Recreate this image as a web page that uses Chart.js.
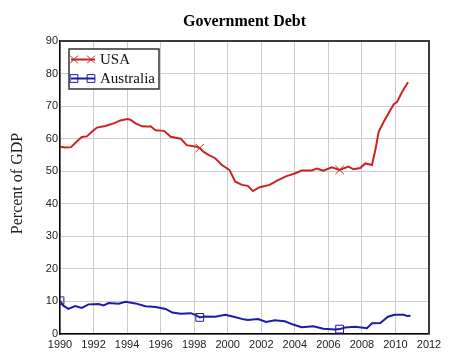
<!DOCTYPE html>
<html>
<head>
<meta charset="utf-8">
<script src="https://cdn.jsdelivr.net/npm/chart.js@4/dist/chart.umd.min.js"></script>
<style>
  html, body { margin: 0; padding: 0; background: #fff; }
  #wrap { width: 450px; height: 363px; }
</style>
</head>
<body>
<div id="wrap"><canvas id="chartDebt" width="450" height="363"></canvas></div>
<script>
// Government debt, percent of GDP
const usaYears = [1990.0, 1990.3, 1990.66, 1991.0, 1991.3, 1991.6, 1991.9, 1992.2, 1992.7, 1993.2,
	1993.6, 1994.0, 1994.2, 1994.5, 1994.9, 1995.2, 1995.4, 1995.7, 1996.2, 1996.6,
	1997.2, 1997.55, 1998.15, 1998.33, 1998.55, 1998.85, 1999.25, 1999.65, 2000.1, 2000.45,
	2000.85, 2001.2, 2001.5, 2001.9, 2002.5, 2003.0, 2003.5, 2004.0, 2004.4, 2005.0,
	2005.3, 2005.7, 2006.2, 2006.67, 2007.2, 2007.5, 2007.9, 2008.2, 2008.6, 2008.8,
	2009.0, 2009.3, 2009.7, 2009.9, 2010.1, 2010.4, 2010.75];
const usaDebt = [57.5, 57.3, 57.4, 59.1, 60.5, 60.7, 62.1, 63.4, 63.9, 64.7,
	65.6, 66.0, 65.8, 64.7, 63.8, 63.7, 63.8, 62.6, 62.4, 60.6,
	60.0, 58.0, 57.5, 57.1, 56.0, 55.0, 54.0, 51.9, 50.4, 46.8,
	45.8, 45.5, 43.9, 45.1, 45.8, 47.3, 48.5, 49.3, 50.2, 50.2,
	50.8, 50.2, 51.2, 50.4, 51.4, 50.6, 51.0, 52.4, 51.9, 56.5,
	62.1, 65.2, 68.8, 70.6, 71.3, 74.4, 77.3];

const ausYears = [1990.0, 1990.2, 1990.5, 1990.9, 1991.3, 1991.7, 1992.3, 1992.6, 1992.9, 1993.5,
	1993.9, 1994.5, 1995.1, 1995.7, 1996.3, 1996.7, 1997.2, 1997.8, 1998.1, 1998.33,
	1998.6, 1999.25, 1999.85, 2000.35, 2000.95, 2001.2, 2001.8, 2002.3, 2002.8, 2003.4,
	2003.9, 2004.4, 2005.1, 2005.7, 2006.4, 2006.67, 2007.0, 2007.6, 2008.3, 2008.6,
	2009.1, 2009.55, 2009.95, 2010.5, 2010.7, 2010.9];
const ausDebt = [10.2, 8.7, 7.7, 8.6, 8.0, 9.1, 9.2, 8.8, 9.5, 9.3,
	9.9, 9.4, 8.5, 8.3, 7.7, 6.6, 6.2, 6.4, 5.8, 5.1,
	5.4, 5.3, 5.9, 5.3, 4.5, 4.3, 4.6, 3.7, 4.2, 3.9,
	2.9, 2.1, 2.4, 1.6, 1.4, 1.5, 2.0, 2.2, 1.8, 3.3,
	3.4, 5.3, 5.9, 5.9, 5.5, 5.6];

// years where a marker is drawn on the line
const usaMarks = [1998.33, 2006.67];
const ausMarks = [1990.0, 1998.33, 2006.67];

const seriesNames = ["USA", "Australia"];
const xTicks = [1990, 1992, 1994, 1996, 1998, 2000, 2002, 2004, 2006, 2008, 2010, 2012];

const RED = "#cc2222";
const BLUE = "#1c1ca8";

function toPoints(xs, ys) {
	return xs.map(function(x, i) { return { x: x, y: ys[i] }; });
}

// title, y title, frame and the boxed legend
const decorPlugin = {
	id: "decor",
	afterDraw: function(chart) {
		const ctx = chart.ctx;
		const a = chart.chartArea;
		ctx.save();

		// frame top / right
		ctx.strokeStyle = "#3a3a3a";
		ctx.lineWidth = 2;
		ctx.beginPath();
		ctx.moveTo(a.left, a.top);
		ctx.lineTo(a.right, a.top);
		ctx.lineTo(a.right, a.bottom);
		ctx.stroke();

		// title
		ctx.fillStyle = "#000";
		ctx.font = "bold 16px 'Liberation Serif', serif";
		ctx.textAlign = "center";
		ctx.textBaseline = "middle";
		ctx.fillText("Government Debt", (a.left + a.right) / 2, 22);

		// y axis title
		ctx.save();
		ctx.translate(18, (a.top + a.bottom) / 2 - 4);
		ctx.rotate(-Math.PI / 2);
		ctx.font = "16px 'Liberation Serif', serif";
		ctx.fillStyle = "#222";
		ctx.fillText("Percent of GDP", 0, 0);
		ctx.restore();

		// legend box
		ctx.fillStyle = "#fff";
		ctx.fillRect(69, 49, 90, 40);
		ctx.strokeStyle = "#333";
		ctx.lineWidth = 1.5;
		ctx.strokeRect(69, 49, 90, 40);

		const rows = [
			{ label: seriesNames[0], color: RED, y: 59.5, style: "crossRot" },
			{ label: seriesNames[1], color: BLUE, y: 78.5, style: "rect" }
		];
		rows.forEach(function(r) {
			ctx.strokeStyle = r.color;
			ctx.lineWidth = 2;
			ctx.beginPath();
			ctx.moveTo(71, r.y);
			ctx.lineTo(95, r.y);
			ctx.stroke();
			[74, 91].forEach(function(mx) {
				ctx.fillStyle = "rgba(0,0,0,0)";
				ctx.strokeStyle = r.color;
				ctx.lineWidth = 1;
				Chart.helpers.drawPoint(ctx, {
					pointStyle: r.style, radius: 5.5, rotation: 0, borderWidth: 1
				}, mx, r.y);
			});
			ctx.fillStyle = "#111";
			ctx.font = "15px 'Liberation Serif', serif";
			ctx.textAlign = "left";
			ctx.textBaseline = "middle";
			ctx.fillText(r.label, 100, r.y + 1);
		});

		ctx.restore();
	}
};

const chartDebt = document.getElementById("chartDebt");

const debtChart = new Chart(chartDebt, {
	type: "line",
	data: {
		datasets: [{
			label: seriesNames[0],
			data: toPoints(usaYears, usaDebt),
			borderColor: RED,
			borderWidth: 2,
			pointStyle: "crossRot",
			pointBorderColor: RED,
			pointBorderWidth: 1,
			pointBackgroundColor: "rgba(0,0,0,0)",
			pointRadius: function(c) {
				return usaMarks.indexOf(usaYears[c.dataIndex]) >= 0 ? 6 : 0;
			},
			tension: 0
		}, {
			label: seriesNames[1],
			data: toPoints(ausYears, ausDebt),
			borderColor: BLUE,
			borderWidth: 2,
			pointStyle: "rect",
			pointBorderColor: BLUE,
			pointBorderWidth: 1,
			pointBackgroundColor: "rgba(0,0,0,0)",
			pointRadius: function(c) {
				return ausMarks.indexOf(ausYears[c.dataIndex]) >= 0 ? 5.5 : 0;
			},
			tension: 0
		}]
	},
	options: {
		responsive: false,
		animation: false,
		layout: {
			padding: { top: 41, right: 21, bottom: 0, left: 0 }
		},
		plugins: {
			legend: { display: false },
			title: { display: false },
			tooltip: { enabled: false }
		},
		scales: {
			x: {
				type: "linear",
				min: 1990,
				max: 2012,
				afterBuildTicks: function(scale) {
					scale.ticks = xTicks.map(function(v) { return { value: v }; });
				},
				afterFit: function(scale) { scale.height = 29; },
				grid: { color: "#cbcbcb", lineWidth: 1, drawTicks: false },
				border: { color: "#000", width: 1.5 },
				ticks: {
					padding: 4,
					color: "#222",
					maxRotation: 0,
					autoSkip: false,
					font: { family: "'Liberation Sans', sans-serif", size: 11 },
					callback: function(v) { return String(v); }
				}
			},
			y: {
				min: 0,
				max: 90,
				afterFit: function(scale) { scale.width = 60; },
				grid: { color: "#cbcbcb", lineWidth: 1, drawTicks: false },
				border: { color: "#000", width: 1.5 },
				ticks: {
					stepSize: 10,
					padding: 2,
					color: "#222",
					font: { family: "'Liberation Sans', sans-serif", size: 11 }
				}
			}
		}
	},
	plugins: [decorPlugin]
});
</script>
</body>
</html>
